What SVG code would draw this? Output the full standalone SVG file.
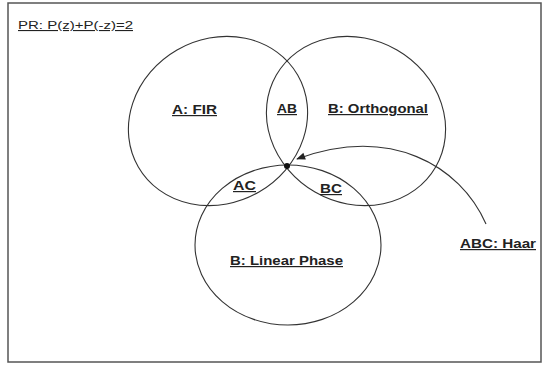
<svg xmlns="http://www.w3.org/2000/svg" width="544" height="365" viewBox="0 0 544 365">
<style>
.set{fill:none;stroke:#333;stroke-width:1.1}
.lbl{font-family:"Liberation Sans",Arial,sans-serif;font-size:12px;font-weight:bold;fill:#222;text-decoration:underline}
.pr{font-family:"Liberation Sans",Arial,sans-serif;font-size:11px;fill:#222;text-decoration:underline}
.conn{fill:none;stroke:#333;stroke-width:1.1}
</style>
<defs>
<marker id="ah" viewBox="0 0 10 10" refX="9" refY="5" markerWidth="10" markerHeight="9" markerUnits="userSpaceOnUse" orient="auto">
<path d="M0,1 L10,5 L0,9 z" fill="#222"/>
</marker>
</defs>
<rect x="0" y="0" width="544" height="365" fill="#fff"/>
<rect x="8" y="3" width="533" height="359" fill="none" stroke="#555" stroke-width="1.5"/>
<text class="pr" x="18" y="29" textLength="115" lengthAdjust="spacingAndGlyphs">PR: P(z)+P(-z)=2</text>
<g id="setA">
<ellipse class="set" cx="218" cy="121" rx="92" ry="82" transform="rotate(-30 218 121)"/>
<text class="lbl" x="172" y="114" textLength="45" lengthAdjust="spacingAndGlyphs">A: FIR</text>
</g>
<g id="setB">
<ellipse class="set" cx="356" cy="121" rx="92" ry="82" transform="rotate(30 356 121)"/>
<text class="lbl" x="328" y="113" textLength="100" lengthAdjust="spacingAndGlyphs">B: Orthogonal</text>
</g>
<g id="setC">
<ellipse class="set" cx="288" cy="245" rx="93" ry="80"/>
<text class="lbl" x="230" y="265" textLength="113" lengthAdjust="spacingAndGlyphs">B: Linear Phase</text>
</g>
<g id="AB"><text class="lbl" x="277" y="113" textLength="20" lengthAdjust="spacingAndGlyphs">AB</text></g>
<g id="AC"><text class="lbl" x="233" y="190" textLength="23" lengthAdjust="spacingAndGlyphs">AC</text></g>
<g id="BC"><text class="lbl" x="320" y="193" textLength="22" lengthAdjust="spacingAndGlyphs">BC</text></g>
<g id="ABC">
<circle cx="287" cy="166" r="3" fill="#111"/>
<text class="lbl" x="460" y="248" textLength="76" lengthAdjust="spacingAndGlyphs">ABC: Haar</text>
</g>
<g id="connectors">
<path class="conn" d="M486,224 C460,165 390,125 297,159" marker-end="url(#ah)"/>
</g>
</svg>
